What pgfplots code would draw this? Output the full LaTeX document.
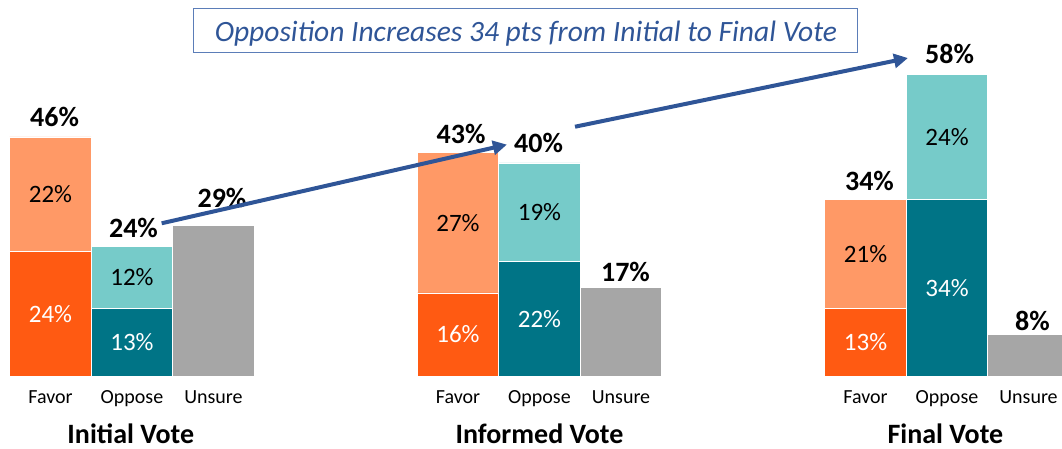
\documentclass[border=0pt]{standalone}
\usepackage{pgfplots}
\pgfplotsset{compat=1.18}
\usepackage{fontspec}
\setmainfont{Carlito}
\usetikzlibrary{arrows.meta}
\definecolor{dorange}{HTML}{FF5A12}
\definecolor{lorange}{HTML}{FF9966}
\definecolor{dteal}{HTML}{007486}
\definecolor{lteal}{HTML}{76CBC9}
\definecolor{ugray}{HTML}{A6A6A6}
\definecolor{tblue}{HTML}{2F5597}
\definecolor{bblue}{HTML}{5B7DB8}
\pgfplotsset{base/.style={x=81.5pt,y=5.2pt,
  xmin=-0.6196,xmax=12.411,ymin=-13.85,ymax=72.31,
  hide axis,clip=false,at={(0,0)},anchor=south west}}
\begin{document}
\begin{tikzpicture}
\begin{axis}[base,
  ybar stacked,bar width=1,
  every axis plot/.append style={draw=white,line width=0.6pt}]
\addplot[fill=dorange] coordinates {(0,24)(1,0)(2,0)(5,16)(6,0)(7,0)(10,13)(11,0)(12,0)};
\addplot[fill=lorange] coordinates {(0,22)(1,0)(2,0)(5,27)(6,0)(7,0)(10,21)(11,0)(12,0)};
\addplot[fill=dteal] coordinates {(0,0)(1,13)(2,0)(5,0)(6,22)(7,0)(10,0)(11,34)(12,0)};
\addplot[fill=lteal] coordinates {(0,0)(1,12)(2,0)(5,0)(6,19)(7,0)(10,0)(11,24)(12,0)};
\addplot[fill=ugray] coordinates {(0,0)(1,0)(2,29)(5,0)(6,0)(7,17)(10,0)(11,0)(12,8)};
\end{axis}
\begin{axis}[base]
\coordinate (bl) at (axis cs:-0.6196,-13.85);
\coordinate (tr) at (axis cs:12.411,72.31);
% inner labels
\tikzset{inl/.style={font=\fontsize{25}{30}\selectfont,inner sep=0pt}}
\node[inl,text=white] at (axis cs:0,12) {24\%};
\node[inl] at (axis cs:0,35) {22\%};
\node[inl,text=white] at (axis cs:1,6.5) {13\%};
\node[inl] at (axis cs:1,19) {12\%};
\node[inl,text=white] at (axis cs:5,8) {16\%};
\node[inl] at (axis cs:5,29.5) {27\%};
\node[inl,text=white] at (axis cs:6,11) {22\%};
\node[inl] at (axis cs:6,31.5) {19\%};
\node[inl,text=white] at (axis cs:10,6.5) {13\%};
\node[inl] at (axis cs:10,23.5) {21\%};
\node[inl,text=white] at (axis cs:11,17) {34\%};
\node[inl] at (axis cs:11,46) {24\%};
% totals
\tikzset{tot/.style={font=\fontsize{28}{33}\selectfont\bfseries,inner sep=0pt}}
\node[tot] at (axis cs:0.05,49.8) {46\%};
\node[tot] at (axis cs:1.018,28.46) {24\%};
\node[tot] at (axis cs:2.104,34.23) {29\%};
\node[tot] at (axis cs:5.037,46.54) {43\%};
\node[tot] at (axis cs:5.988,44.81) {40\%};
\node[tot] at (axis cs:7.055,20.0) {17\%};
\node[tot] at (axis cs:10.049,37.56) {34\%};
\node[tot] at (axis cs:11.031,61.92) {58\%};
\node[tot] at (axis cs:12.049,10.58) {8\%};
% category labels
\tikzset{cat/.style={font=\fontsize{20}{24}\selectfont,anchor=base,inner sep=0pt}}
\node[cat] at (axis cs:0,-5.19) {Favor};
\node[cat] at (axis cs:1,-5.19) {Oppose};
\node[cat] at (axis cs:2,-5.19) {Unsure};
\node[cat] at (axis cs:5,-5.19) {Favor};
\node[cat] at (axis cs:6,-5.19) {Oppose};
\node[cat] at (axis cs:7,-5.19) {Unsure};
\node[cat] at (axis cs:10,-5.19) {Favor};
\node[cat] at (axis cs:11,-5.19) {Oppose};
\node[cat] at (axis cs:12,-5.19) {Unsure};
\tikzset{grp/.style={font=\fontsize{28}{33}\selectfont\bfseries,anchor=base,inner sep=0pt}}
\node[grp] at (axis cs:0.985,-12.9) {Initial Vote};
\node[grp] at (axis cs:6,-12.9) {Informed Vote};
\node[grp] at (axis cs:10.98,-12.9) {Final Vote};
% title
\node[draw=bblue,line width=1pt,minimum width=664pt,minimum height=44pt,inner sep=0pt] at (axis cs:5.834,66.35) {};
\node[anchor=base,text=tblue,font=\fontsize{29.5}{34}\selectfont\itshape,inner sep=0pt] at (axis cs:5.834,64.42) {Opposition Increases 34 pts from Initial to Final Vote};
% arrows
\draw[tblue,line width=4pt,-{Triangle[length=14pt,width=14pt]}] (axis cs:1.364,29.37) -- (axis cs:5.6,44.5);
\draw[tblue,line width=4pt,-{Triangle[length=14pt,width=14pt]}] (axis cs:6.436,47.94) -- (axis cs:10.521,61.15);
\end{axis}
\pgfresetboundingbox
\useasboundingbox (bl) rectangle (tr);
\end{tikzpicture}
\end{document}
